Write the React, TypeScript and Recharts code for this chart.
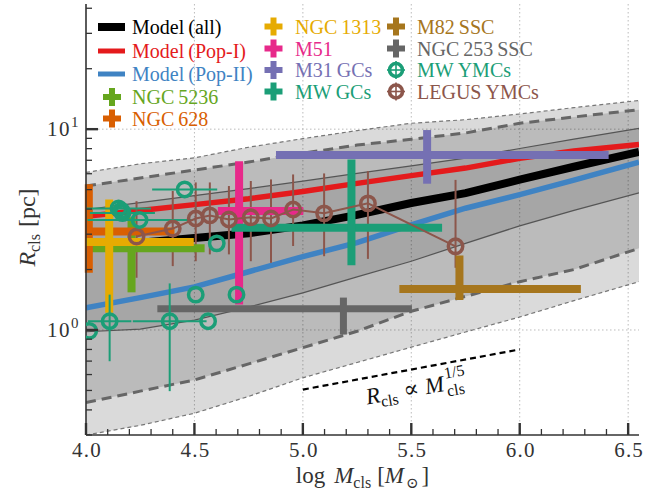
import React from "react";
import {
  ComposedChart,
  XAxis,
  YAxis,
  Area,
  Line,
  Scatter,
  ErrorBar,
  CartesianGrid,
  ReferenceLine,
  ReferenceDot,
  Legend,
} from "recharts";

const FONT = "'Liberation Serif', 'DejaVu Serif', serif";
const INK = "#333333";

// ---------- model curves (log M grid) ----------
const massGrid = [4.0, 4.25, 4.5, 4.75, 5.0, 5.25, 5.5, 5.75, 6.0, 6.25, 6.55];
const outerUpper = [6.09, 6.72, 7.2, 8.13, 8.97, 9.84, 10.7, 11.15, 11.9, 12.8, 13.9];
const midUpper = [5.21, 5.71, 6.26, 6.86, 7.59, 8.33, 8.91, 9.57, 10.7, 11.5, 12.5];
const innerUpper = [3.98, 4.31, 4.67, 5.06, 5.51, 6.02, 6.57, 7.18, 8.01, 8.93, 10.1];
const modelPop1 = [3.68, 3.94, 4.21, 4.5, 4.89, 5.37, 5.87, 6.4, 7.16, 7.78, 8.38];
const modelAll = [2.58, 2.72, 2.87, 3.03, 3.32, 3.74, 4.29, 4.8, 5.6, 6.5, 7.7];
const modelPop2 = [1.29, 1.45, 1.64, 1.95, 2.32, 2.72, 3.34, 4.04, 4.72, 5.57, 6.86];
const innerLower = [0.98, 1.01, 1.12, 1.3, 1.53, 1.84, 2.2, 2.7, 3.3, 3.94, 4.82];
const midLower = [0.435, 0.496, 0.564, 0.678, 0.817, 0.985, 1.24, 1.47, 1.74, 2.0, 2.55];
const outerLower = [0.3, 0.335, 0.385, 0.467, 0.578, 0.689, 0.821, 0.977, 1.16, 1.4, 1.74];

// ---------- galaxy crosses ----------
const crossLabels = ["NGC\u20095236", "NGC\u2009628", "NGC\u20091313", "M51", "M31\u2009GCs", "MW\u2009GCs", "M82\u2009SSC", "NGC\u2009253\u2009SSC"];
const crossColors = ["#66a61e", "#d95f02", "#e6ab02", "#e7298a", "#7570b3", "#1b9e77", "#a6761d", "#666666"];
const crossX = [4.21, 4.013, 4.107, 4.706, 5.573, 5.224, 5.722, 5.187];
const crossR = [2.55, 3.09, 2.74, 3.91, 7.43, 3.23, 1.6, 1.275];
const crossXErrLo = [0.21, 0.013, 0.107, 0.098, 0.697, 0.553, 0.277, 0.858];
const crossXErrHi = [0.337, 0.395, 0.39, 0.296, 0.837, 0.418, 0.56, 0.316];
const crossRErrLo = [1.01, 1.16, 1.52, 2.57, 2.08, 1.13, 0.19, 0.325];
const crossRErrHi = [1.09, 2.22, 1.73, 3.02, 2.47, 3.84, 0.75, 0.175];

// ---------- MW YMCs ----------
const mwYmcX = [4.015, 4.109, 4.386, 4.563, 4.506, 4.694, 4.247, 4.15, 4.168, 4.163, 4.455, 4.603];
const mwYmcR = [0.99, 1.106, 1.106, 1.106, 1.5, 1.5, 3.53, 4.03, 3.82, 3.93, 5.01, 2.7];
const mwYmcXErrLo = [0, 0.1, 0.17, 0, 0, 0, 0.24, 0.15, 0.15, 0, 0.15, 0];
const mwYmcXErrHi = [0, 0.1, 0.17, 0, 0, 0, 0.24, 0.15, 0.15, 0, 0.15, 0];
const mwYmcRErrLo = [0, 0.407, 0.61, 0, 0, 0, 0, 0, 0, 0, 0, 0];
const mwYmcRErrHi = [0, 0.394, 0.6, 0, 0, 0, 0, 0, 0, 0, 0, 0];

// ---------- LEGUS YMCs ----------
const legusX = [4.233, 4.4, 4.506, 4.571, 4.659, 4.76, 4.853, 4.955, 5.098, 5.3, 5.704];
const legusR = [2.92, 3.2, 3.59, 3.72, 3.55, 3.64, 3.59, 3.98, 3.81, 4.27, 2.61];
const legusRErrLo = [1.1, 1.12, 1.39, 1.34, 1.17, 1.44, 1.43, 1.36, 1.48, 2.01, 0.57];
const legusRErrHi = [1.46, 1.72, 1.84, 1.71, 1.66, 1.88, 2.03, 1.97, 2.21, 1.91, 2.98];

// ---------- slope guide ----------
const guideX = [5.0, 6.0];
const guideR = [0.505, 0.8];
const guideTextX = 5.297;
const guideTextR = 0.425;

// ---------- ticks ----------
const xMajor = [4.0, 4.5, 5.0, 5.5, 6.0, 6.5];
const xTicks = [4.0, 4.1, 4.2, 4.3, 4.4, 4.5, 4.6, 4.7, 4.8, 4.9, 5.0, 5.1, 5.2, 5.3, 5.4, 5.5, 5.6, 5.7, 5.8, 5.9, 6.0, 6.1, 6.2, 6.3, 6.4, 6.5];
const yMajor = [1, 10];
const yTicks = [0.3, 0.4, 0.5, 0.6, 0.7, 0.8, 0.9, 1, 2, 3, 4, 5, 6, 7, 8, 9, 10, 20, 30, 40];
const xGrid = [4.5, 5.0, 5.5, 6.0, 6.5];

const modelNames = ["Model\u2009(all)", "Model\u2009(Pop-I)", "Model\u2009(Pop-II)"];
const modelColors = ["#000000", "#e41a1c", "#3f83c3"];
const mwYmcColor = "#1b9e77";
const legusColor = "#8c564b";

const curveRows = massGrid.map((x, i) => ({
  x,
  u2: outerUpper[i],
  u1: midUpper[i],
  u0: innerUpper[i],
  red: modelPop1[i],
  black: modelAll[i],
  blue: modelPop2[i],
  l0: innerLower[i],
  l1: midLower[i],
  l2: outerLower[i],
}));

const crossRows = crossX.map((x, i) => ({
  x,
  y: crossR[i],
  ex: [crossXErrLo[i], crossXErrHi[i]],
  ey: [crossRErrLo[i], crossRErrHi[i]],
}));

const mwRows = mwYmcX.map((x, i) => ({
  x,
  y: mwYmcR[i],
  ex: [mwYmcXErrLo[i], mwYmcXErrHi[i]],
  ey: [mwYmcRErrLo[i], mwYmcRErrHi[i]],
}));

const legusRows = legusX.map((x, i) => ({
  x,
  y: legusR[i],
  ey: [legusRErrLo[i], legusRErrHi[i]],
}));

const near = (arr: number[], v: number) => arr.some((m) => Math.abs(m - v) < 1e-6);

const BottomTick = (props: any) => {
  const { x, y, payload } = props;
  const major = near(xMajor, payload.value);
  return (
    <g>
      <line x1={x} x2={x} y1={y} y2={y - (major ? 12 : 6)} stroke={INK} strokeWidth={major ? 2.4 : 1.3} />
      {major && (
        <text x={x + 1} y={y + 22} textAnchor="middle" fontFamily={FONT} fontSize={21} letterSpacing={1.2} fill={INK}>
          {Number(payload.value).toFixed(1)}
        </text>
      )}
    </g>
  );
};

const TopTick = (props: any) => {
  const { x, y, payload } = props;
  const major = near(xMajor, payload.value);
  return <line x1={x} x2={x} y1={y} y2={y + (major ? 12 : 6)} stroke={INK} strokeWidth={major ? 2.4 : 1.3} />;
};

const LeftTick = (props: any) => {
  const { x, y, payload } = props;
  const major = near(yMajor, payload.value);
  const exp = Math.round(Math.log10(payload.value));
  return (
    <g>
      <line x1={x} x2={x + (major ? 12 : 6)} y1={y} y2={y} stroke={INK} strokeWidth={major ? 2.4 : 1.3} />
      {major && (
        <text x={x - 6} y={y + 7} textAnchor="end" fontFamily={FONT} fontSize={21} letterSpacing={1.5} fill={INK}>
          10
          <tspan dy={-9} fontSize={15}>
            {exp}
          </tspan>
        </text>
      )}
    </g>
  );
};

const RightTick = (props: any) => {
  const { x, y, payload } = props;
  const major = near(yMajor, payload.value);
  return <line x1={x} x2={x - (major ? 12 : 6)} y1={y} y2={y} stroke={INK} strokeWidth={major ? 2.4 : 1.3} />;
};

const XLabel = (props: any) => {
  const vb = props.viewBox || { x: 86, y: 435, width: 553, height: 61 };
  const cx = vb.x + vb.width / 2;
  return (
    <text x={cx} y={vb.y + 48} textAnchor="middle" fontFamily={FONT} fontSize={23} fill={INK}>
      log
      <tspan dx={9} fontStyle="italic">M</tspan>
      <tspan fontSize={16} dy={5}>cls</tspan>
      <tspan dy={-5} dx={6}>[</tspan>
      <tspan fontStyle="italic">M</tspan>
      <tspan fontSize={15} dy={5} dx={2}>{"\u2299"}</tspan>
      <tspan dy={-5} dx={3}>]</tspan>
    </text>
  );
};

const YLabel = (props: any) => {
  const vb = props.viewBox || { x: 0, y: 4, width: 86, height: 431 };
  const cx = vb.x + 35;
  const cy = vb.y + vb.height / 2 + 8;
  return (
    <text transform={`translate(${cx},${cy}) rotate(-90)`} textAnchor="middle" fontFamily={FONT} fontSize={24} fill={INK}>
      <tspan fontStyle="italic">R</tspan>
      <tspan fontSize={16} dy={5}>cls</tspan>
      <tspan dy={-5} dx={7}>[pc]</tspan>
    </text>
  );
};

const GuideText = (props: any) => {
  const vb = props.viewBox;
  if (!vb) return null;
  return (
    <g transform={`translate(${vb.x},${vb.y}) rotate(-10)`} fontFamily={FONT} fill="#111">
      <text x={0} y={0} fontSize={23} fontStyle="italic">R</text>
      <text x={14} y={5} fontSize={16}>cls</text>
      <text x={38} y={0} fontSize={23}>{"\u221d"}</text>
      <text x={60} y={0} fontSize={23} fontStyle="italic">M</text>
      <text x={81} y={-12} fontSize={16}>1/5</text>
      <text x={81} y={6} fontSize={16}>cls</text>
    </g>
  );
};

const Ring = (color: string) => (props: any) => {
  const { cx, cy } = props;
  if (cx == null || cy == null) return <g />;
  return <circle cx={cx} cy={cy} r={7.2} fill="none" stroke={color} strokeWidth={3.5} />;
};

const Nothing = () => <g />;

const LegendBox = () => {
  const col1Rows = [27, 51, 74];
  const col1Cross = [97, 118.5];
  const col2Rows = [26.5, 48.5, 70, 91.5];
  const col3Rows = [26.5, 48.5, 70, 91.5];
  const plus = (cx: number, cy: number, color: string, key: string) => (
    <g key={key}>
      <line x1={cx - 9} x2={cx + 9} y1={cy} y2={cy} stroke={color} strokeWidth={6} />
      <line x1={cx} x2={cx} y1={cy - 9} y2={cy + 9} stroke={color} strokeWidth={6} />
    </g>
  );
  const ring = (cx: number, cy: number, color: string, key: string) => (
    <g key={key}>
      <line x1={cx - 9} x2={cx + 9} y1={cy} y2={cy} stroke={color} strokeWidth={1.6} />
      <line x1={cx} x2={cx} y1={cy - 9} y2={cy + 9} stroke={color} strokeWidth={1.6} />
      <circle cx={cx} cy={cy} r={6.5} fill="none" stroke={color} strokeWidth={3.6} />
    </g>
  );
  const label = (x: number, cy: number, color: string, text: string, key: string) => (
    <text key={key} x={x} y={cy + 7} fontFamily={FONT} fontSize={20} fill={color}>
      {text}
    </text>
  );
  return (
    <svg width={672} height={130} style={{ display: "block", overflow: "visible" }}>
      {modelNames.map((n, i) => (
        <g key={n}>
          <line x1={98} x2={125} y1={col1Rows[i]} y2={col1Rows[i]} stroke={modelColors[i]} strokeWidth={i === 0 ? 8 : 5} />
          {label(132, col1Rows[i], modelColors[i], n, n + "t")}
        </g>
      ))}
      {[0, 1].map((k, j) => (
        <g key={"c1" + k}>
          {plus(112, col1Cross[j], crossColors[k], "p" + k)}
          {label(132, col1Cross[j], crossColors[k], crossLabels[k], "t" + k)}
        </g>
      ))}
      {[2, 3, 4, 5].map((k, j) => (
        <g key={"c2" + k}>
          {plus(273.5, col2Rows[j], crossColors[k], "p" + k)}
          {label(295, col2Rows[j], crossColors[k], crossLabels[k], "t" + k)}
        </g>
      ))}
      {[6, 7].map((k, j) => (
        <g key={"c3" + k}>
          {plus(396, col3Rows[j], crossColors[k], "p" + k)}
          {label(417, col3Rows[j], crossColors[k], crossLabels[k], "t" + k)}
        </g>
      ))}
      {ring(396, col3Rows[2], mwYmcColor, "rmw")}
      {label(417, col3Rows[2], mwYmcColor, "MW\u2009YMCs", "tmw")}
      {ring(396, col3Rows[3], legusColor, "rlg")}
      {label(417, col3Rows[3], legusColor, "LEGUS\u2009YMCs", "tlg")}
    </svg>
  );
};

export default function App() {
  const axisLineStyle = { stroke: INK, strokeWidth: 1.6 };
  return (
    <div style={{ position: "absolute", left: 0, top: 0, width: 672, height: 496, background: "#fff" }}>
      <ComposedChart width={672} height={496} data={curveRows} margin={{ top: 4, right: 33, bottom: 0, left: 0 }}>
        <CartesianGrid
          xAxisId="b"
          yAxisId="l"
          horizontalValues={yMajor}
          verticalValues={xGrid}
          stroke="#b4b4b4"
          strokeDasharray="1.5 2.5"
          strokeWidth={0.9}
        />
        <XAxis
          xAxisId="b"
          dataKey="x"
          type="number"
          domain={[4, 6.55]}
          allowDataOverflow
          ticks={xTicks}
          interval={0}
          tickLine={false}
          tickSize={0}
          tickMargin={0}
          tick={(p: any) => <BottomTick {...p} />}
          axisLine={axisLineStyle}
          height={61}
          label={<XLabel />}
        />
        <XAxis
          xAxisId="t"
          orientation="top"
          type="number"
          domain={[4, 6.55]}
          allowDataOverflow
          ticks={xTicks}
          interval={0}
          tickLine={false}
          tickSize={0}
          tickMargin={0}
          tick={(p: any) => <TopTick {...p} />}
          axisLine={axisLineStyle}
          height={0}
        />
        <YAxis
          yAxisId="l"
          type="number"
          scale="log"
          domain={[0.3, 42]}
          allowDataOverflow
          ticks={yTicks}
          interval={0}
          tickLine={false}
          tickSize={0}
          tickMargin={0}
          tick={(p: any) => <LeftTick {...p} />}
          axisLine={axisLineStyle}
          width={86}
          label={<YLabel />}
        />
        <YAxis
          yAxisId="r"
          orientation="right"
          type="number"
          scale="log"
          domain={[0.3, 42]}
          allowDataOverflow
          ticks={yTicks}
          interval={0}
          tickLine={false}
          tickSize={0}
          tickMargin={0}
          tick={(p: any) => <RightTick {...p} />}
          axisLine={axisLineStyle}
          width={0}
        />

        <Area xAxisId="b" yAxisId="l" type="linear" dataKey={(d: any) => [d.l2, d.u2]} stroke="none" fill="#000" fillOpacity={0.145} isAnimationActive={false} />
        <Area xAxisId="b" yAxisId="l" type="linear" dataKey={(d: any) => [d.l1, d.u1]} stroke="none" fill="#000" fillOpacity={0.14} isAnimationActive={false} />
        <Area xAxisId="b" yAxisId="l" type="linear" dataKey={(d: any) => [d.l0, d.u0]} stroke="none" fill="#000" fillOpacity={0.11} isAnimationActive={false} />

        <Line xAxisId="b" yAxisId="l" type="linear" dataKey="u2" stroke="#777" strokeWidth={1.2} strokeDasharray="4 3" dot={false} isAnimationActive={false} />
        <Line xAxisId="b" yAxisId="l" type="linear" dataKey="l2" stroke="#777" strokeWidth={1.2} strokeDasharray="4 3" dot={false} isAnimationActive={false} />
        <Line xAxisId="b" yAxisId="l" type="linear" dataKey="u1" stroke="#666" strokeWidth={3} strokeDasharray="10 6" dot={false} isAnimationActive={false} />
        <Line xAxisId="b" yAxisId="l" type="linear" dataKey="l1" stroke="#666" strokeWidth={3} strokeDasharray="10 6" dot={false} isAnimationActive={false} />
        <Line xAxisId="b" yAxisId="l" type="linear" dataKey="u0" stroke="#555" strokeWidth={1.2} dot={false} isAnimationActive={false} />
        <Line xAxisId="b" yAxisId="l" type="linear" dataKey="l0" stroke="#555" strokeWidth={1.2} dot={false} isAnimationActive={false} />

        <Line xAxisId="b" yAxisId="l" type="linear" dataKey="red" stroke={modelColors[1]} strokeWidth={5.5} dot={false} isAnimationActive={false} />
        <Line xAxisId="b" yAxisId="l" type="linear" dataKey="blue" stroke={modelColors[2]} strokeWidth={5.5} dot={false} isAnimationActive={false} />
        <Line xAxisId="b" yAxisId="l" type="linear" dataKey="black" stroke={modelColors[0]} strokeWidth={8} dot={false} isAnimationActive={false} />

        <ReferenceLine
          xAxisId="b"
          yAxisId="l"
          segment={[
            { x: guideX[0], y: guideR[0] },
            { x: guideX[1], y: guideR[1] },
          ]}
          stroke="#000"
          strokeWidth={2.2}
          strokeDasharray="6 4"
        />
        <ReferenceDot
          xAxisId="b"
          yAxisId="l"
          x={guideTextX}
          y={guideTextR}
          r={0}
          fill="none"
          stroke="none"
          label={<GuideText />}
        />

        <Scatter
          xAxisId="b"
          yAxisId="l"
          data={legusRows}
          dataKey="y"
          shape={Ring(legusColor)}
          line={{ stroke: legusColor, strokeWidth: 2 }}
          isAnimationActive={false}
        >
          <ErrorBar dataKey="ey" direction="y" width={0} stroke={legusColor} strokeWidth={2} />
        </Scatter>

        {crossRows.map((row, i) => (
          <Scatter key={"cross" + i} xAxisId="b" yAxisId="l" data={[row]} dataKey="y" shape={Nothing} isAnimationActive={false}>
            <ErrorBar dataKey="ex" direction="x" width={0} stroke={crossColors[i]} strokeWidth={i === 7 ? 7 : 8} />
            <ErrorBar dataKey="ey" direction="y" width={0} stroke={crossColors[i]} strokeWidth={i === 7 ? 7 : 8} />
          </Scatter>
        ))}

        <Scatter xAxisId="b" yAxisId="l" data={mwRows} dataKey="y" shape={Ring(mwYmcColor)} isAnimationActive={false}>
          <ErrorBar dataKey="ex" direction="x" width={0} stroke={mwYmcColor} strokeWidth={2} />
          <ErrorBar dataKey="ey" direction="y" width={0} stroke={mwYmcColor} strokeWidth={2} />
        </Scatter>

        <Legend
          layout="vertical"
          align="center"
          verticalAlign="middle"
          content={() => <LegendBox />}
          wrapperStyle={{ position: "absolute", left: 0, top: 0, width: 672, height: 130, margin: 0, padding: 0 }}
        />
      </ComposedChart>
    </div>
  );
}
